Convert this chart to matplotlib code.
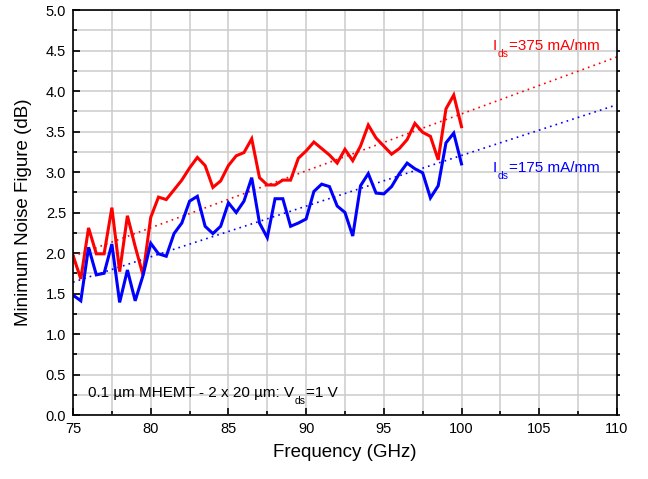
import numpy as np
import matplotlib
matplotlib.use("Agg")
import matplotlib.pyplot as plt
from matplotlib.ticker import MultipleLocator, FormatStrFormatter

plt.rcParams['font.family'] = ['Liberation Sans', 'DejaVu Sans']

freq = [75.0, 75.5, 76.0, 76.5, 77.0, 77.5, 78.0, 78.5, 79.0, 79.5,
        80.0, 80.5, 81.0, 81.5, 82.0, 82.5, 83.0, 83.5, 84.0, 84.5,
        85.0, 85.5, 86.0, 86.5, 87.0, 87.5, 88.0, 88.5, 89.0, 89.5,
        90.0, 90.5, 91.0, 91.5, 92.0, 92.5, 93.0, 93.5, 94.0, 94.5,
        95.0, 95.5, 96.0, 96.5, 97.0, 97.5, 98.0, 98.5, 99.0, 99.5,
        100.0]

# Ids = 375 mA/mm
nf_375 = [1.97, 1.68, 2.31, 1.99, 1.99, 2.56, 1.77, 2.46, 2.08, 1.73,
          2.44, 2.69, 2.66, 2.78, 2.90, 3.05, 3.18, 3.08, 2.81, 2.89,
          3.08, 3.20, 3.24, 3.41, 2.93, 2.84, 2.84, 2.90, 2.90, 3.17,
          3.26, 3.37, 3.29, 3.21, 3.11, 3.28, 3.14, 3.32, 3.58, 3.42,
          3.32, 3.22, 3.29, 3.40, 3.60, 3.49, 3.44, 3.15, 3.78, 3.95,
          3.56]

# Ids = 175 mA/mm
nf_175 = [1.48, 1.41, 2.07, 1.73, 1.75, 2.11, 1.39, 1.79, 1.41, 1.72,
          2.12, 1.99, 1.96, 2.24, 2.37, 2.64, 2.70, 2.33, 2.24, 2.33,
          2.62, 2.50, 2.64, 2.93, 2.37, 2.19, 2.67, 2.67, 2.33, 2.37,
          2.42, 2.76, 2.85, 2.82, 2.58, 2.50, 2.21, 2.83, 2.98, 2.74,
          2.73, 2.82, 2.98, 3.11, 3.04, 2.99, 2.68, 2.83, 3.36, 3.48,
          3.10]

# linear trend end points
fit_x = [75, 110]
fit_375 = [1.96, 4.42]
fit_175 = [1.64, 3.83]

fig = plt.figure(figsize=(6.48, 4.79), dpi=100)
ax = fig.add_axes([0.1127, 0.1336, 0.8393, 0.8455])

ax.plot(fit_x, fit_375, color='red', lw=1.2, ls=(0, (1, 2.5)))
ax.plot(fit_x, fit_175, color='blue', lw=1.2, ls=(0, (1, 2.5)))
ax.plot(freq, nf_375, color='#ff0000', lw=2.2, solid_joinstyle='miter')
ax.plot(freq, nf_175, color='#0000ff', lw=2.2, solid_joinstyle='miter')

ax.set_xlim(75, 110)
ax.set_ylim(0, 5)
ax.xaxis.set_major_locator(MultipleLocator(5))
ax.xaxis.set_minor_locator(MultipleLocator(2.5))
ax.yaxis.set_major_locator(MultipleLocator(0.5))
ax.yaxis.set_minor_locator(MultipleLocator(0.25))
ax.yaxis.set_major_formatter(FormatStrFormatter('%.1f'))

ax.grid(which='both', color='#cccccc', lw=1.1)
ax.set_axisbelow(True)

ax.tick_params(which='both', direction='in', labelsize=10.5, width=1.2, pad=5)
ax.tick_params(which='major', length=5)
ax.tick_params(which='minor', length=3)
for s in ax.spines.values():
    s.set_linewidth(1.2)

# small outward ticks on the right spine
axr = ax.twinx()
axr.set_ylim(0, 5)
axr.yaxis.set_major_locator(MultipleLocator(0.25))
axr.tick_params(direction='out', length=1.8, width=1.2, labelright=False)
axr.spines[:].set_visible(False)

ax.set_xlabel('Frequency (GHz)', fontsize=13.5, labelpad=6)
ax.set_ylabel('Minimum Noise Figure (dB)', fontsize=13.5, labelpad=10)

renderer = fig.canvas.get_renderer()


def sub_text(x, y, main, sub, rest, color):
    # main text, then a small low subscript, then the rest
    t = ax.text(x, y, main, color=color, fontsize=11, va='baseline')
    w = t.get_window_extent(renderer).width * 72 / fig.dpi + 0.3
    s = ax.annotate(sub, (x, y), xytext=(w, -5), textcoords='offset points',
                    color=color, fontsize=7.5, va='baseline')
    ws = s.get_window_extent(renderer).width * 72 / fig.dpi
    ax.annotate(rest, (x, y), xytext=(w + ws + 0.3, 0), textcoords='offset points',
                color=color, fontsize=11, va='baseline')


sub_text(102.0, 4.51, 'I', 'ds', '=375 mA/mm', 'red')
sub_text(102.0, 3.00, 'I', 'ds', '=175 mA/mm', 'blue')
sub_text(75.95, 0.22, '0.1 µm MHEMT - 2 x 20 µm: V', 'ds', '=1 V', 'black')

fig.savefig('out.png', dpi=100)
